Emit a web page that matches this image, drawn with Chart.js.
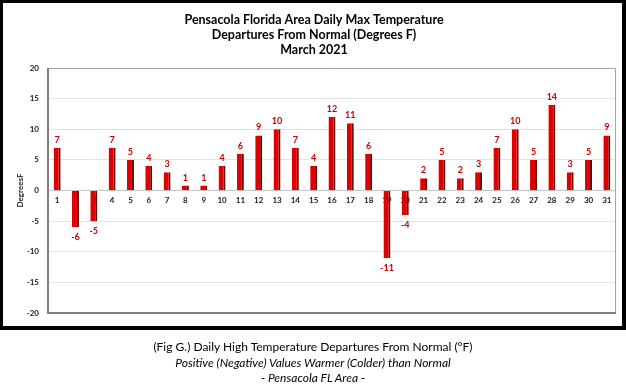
<!DOCTYPE html>
<html>
<head>
<meta charset="utf-8">
<script src="https://cdn.jsdelivr.net/npm/chart.js@4"></script>
<style>
  body { margin: 0; background: #fff; width: 626px; height: 389px; overflow: hidden; }
  #frame { position: absolute; left: 0; top: 0; width: 626px; height: 330px; box-sizing: border-box;
           border: 3px solid #000; border-right-width: 4px; border-bottom-width: 4px; }
  #wrap { position: absolute; left: 0; top: 0; width: 626px; height: 330px; }
  #caption { position: absolute; left: 0; top: 339px; width: 626px; text-align: center;
             font-family: Lato, sans-serif; font-size: 12px; line-height: 15.5px; color: #000; }
  #caption i { font-style: italic; }
</style>
</head>
<body>
<div id="wrap"><canvas id="tempChart"></canvas></div>
<div id="frame"></div>
<div id="caption">
  (Fig G.) Daily High Temperature Departures From Normal (°F)<br>
  <i>Positive (Negative) Values Warmer (Colder) than Normal</i><br>
  <i>- Pensacola FL Area -</i>
</div>
<script>
const days = ['1','2','3','4','5','6','7','8','9','10','11','12','13','14','15','16',
              '17','18','19','20','21','22','23','24','25','26','27','28','29','30','31'];
const departures = [7, -6, -5, 7, 5, 4, 3, 1, 1, 4, 6, 9, 10, 7, 4, 12,
                    11, 6, -11, -4, 2, 5, 2, 3, 7, 10, 5, 14, 3, 5, 9];
// bars for days 8 and 9 look a little shorter than the label says
const barHeights = [7, -6, -5, 7, 5, 4, 3, 0.8, 0.8, 4, 6, 9, 10, 7, 4, 12,
                    11, 6, -11, -4, 2, 5, 2, 3, 7, 10, 5, 14, 3, 5, 9];
const yTicks = [-20, -15, -10, -5, 0, 5, 10, 15, 20];

const fontFam = 'Lato, sans-serif';

// value labels above / below each bar
const valueLabels = {
  id: 'valueLabels',
  afterDatasetsDraw(chart) {
    const ctx = chart.ctx;
    const meta = chart.getDatasetMeta(0);
    ctx.save();
    ctx.font = 'bold 9px ' + fontFam;
    ctx.fillStyle = '#c80000';
    ctx.textAlign = 'center';
    ctx.textBaseline = 'middle';
    meta.data.forEach((bar, i) => {
      const v = departures[i];
      const y = v >= 0 ? bar.y - 8 : bar.y + 10;
      ctx.fillText(String(v), bar.x, y);
    });
    ctx.restore();
  }
};

// plot area frame
const plotFrame = {
  id: 'plotFrame',
  beforeDatasetsDraw(chart) {
    const { ctx, chartArea: a } = chart;
    ctx.save();
    ctx.strokeStyle = '#a6a6a6';
    ctx.lineWidth = 1;
    ctx.beginPath();
    ctx.moveTo(a.left, a.top + 0.5);
    ctx.lineTo(a.right - 0.5, a.top + 0.5);
    ctx.lineTo(a.right - 0.5, a.bottom);
    ctx.stroke();
    ctx.strokeStyle = '#7f7f7f';
    ctx.lineWidth = 2;
    ctx.beginPath();
    ctx.moveTo(a.left, a.top);
    ctx.lineTo(a.left, a.bottom);
    ctx.lineTo(a.right, a.bottom);
    ctx.stroke();
    ctx.restore();
  }
};

new Chart(document.getElementById('tempChart'), {
  type: 'bar',
  data: {
    labels: days,
    datasets: [{
      data: barHeights,
      backgroundColor: '#e00000',
      borderColor: '#6e0000',
      borderWidth: { left: 0, right: 2, top: 0, bottom: 0 },
      borderSkipped: false,
      barPercentage: 0.38,
      categoryPercentage: 1.0
    }]
  },
  options: {
    responsive: true,
    maintainAspectRatio: false,
    animation: false,
    layout: { padding: { left: 12, right: 10, top: 0, bottom: 17 } },
    plugins: {
      legend: { display: false },
      tooltip: { enabled: false },
      title: {
        display: true,
        text: ['Pensacola Florida Area Daily Max Temperature',
               'Departures From Normal (Degrees F)',
               'March 2021'],
        color: '#000',
        font: { family: fontFam, size: 12.5, weight: 'bold', lineHeight: 1.2 },
        padding: { top: 12, bottom: 11 }
      }
    },
    scales: {
      x: {
        position: { y: 0 },
        z: 1,
        grid: { display: false, drawTicks: false },
        border: { display: false },
        ticks: { color: '#1a1a1a', padding: 5, maxRotation: 0, autoSkip: false,
                 font: { family: fontFam, size: 8, weight: 'bold' } }
      },
      y: {
        min: -20,
        max: 20,
        afterBuildTicks: axis => { axis.ticks = yTicks.map(v => ({ value: v })); },
        afterFit: axis => { axis.width = 36; },
        grid: { color: ctx => ctx.tick && ctx.tick.value === 0 ? '#c4c4c4' : '#e3e3e3',
                lineWidth: 1, drawTicks: false },
        border: { display: false },
        title: { display: true, text: 'DegreesF', color: '#1a1a1a', padding: 4,
                 font: { family: fontFam, size: 8, weight: 'bold' } },
        ticks: { color: '#1a1a1a', padding: 9,
                 font: { family: fontFam, size: 8, weight: 'bold' } }
      }
    }
  },
  plugins: [plotFrame, valueLabels]
});
</script>
</body>
</html>
